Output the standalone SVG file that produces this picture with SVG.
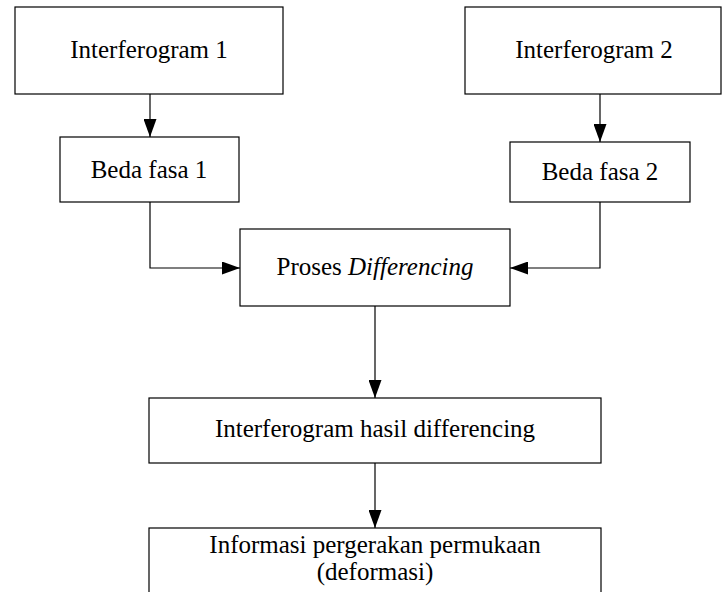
<svg xmlns="http://www.w3.org/2000/svg" width="723" height="592" viewBox="0 0 723 592">
<style>
.box{fill:#fff;stroke:#000;stroke-width:1.2}
.t{font-family:"Liberation Serif","Times New Roman",serif;font-size:25px;fill:#000;text-anchor:middle}
.c{fill:none;stroke:#000;stroke-width:1.2}
</style>
<defs>
<marker id="ah" markerWidth="18" markerHeight="13" refX="18" refY="6.5" orient="auto" markerUnits="userSpaceOnUse">
<path d="M0,0 L18,6.5 L0,13 Z" fill="#000"/>
</marker>
</defs>
<rect width="723" height="592" fill="#fff"/>
<g id="connectors">
<path class="c" d="M150,94 V137" marker-end="url(#ah)"/>
<path class="c" d="M600,94 V142" marker-end="url(#ah)"/>
<path class="c" d="M150,202 V268 H240" marker-end="url(#ah)"/>
<path class="c" d="M600,202 V268 H510" marker-end="url(#ah)"/>
<path class="c" d="M375,306 V398" marker-end="url(#ah)"/>
<path class="c" d="M375,463 V528" marker-end="url(#ah)"/>
</g>
<g id="interferogram1">
<rect class="box" x="15" y="7" width="268" height="87"/>
<text class="t" x="149" y="58">Interferogram 1</text>
</g>
<g id="interferogram2">
<rect class="box" x="465" y="7" width="256" height="87"/>
<text class="t" x="594" y="58">Interferogram 2</text>
</g>
<g id="bedafasa1">
<rect class="box" x="60" y="137" width="179" height="65"/>
<text class="t" x="149" y="178">Beda fasa 1</text>
</g>
<g id="bedafasa2">
<rect class="box" x="510" y="142" width="180" height="60"/>
<text class="t" x="600" y="180">Beda fasa 2</text>
</g>
<g id="proses">
<rect class="box" x="240" y="229" width="270" height="77"/>
<text class="t" x="375" y="275">Proses <tspan font-style="italic">Differencing</tspan></text>
</g>
<g id="hasil">
<rect class="box" x="149" y="398" width="452" height="65"/>
<text class="t" x="375" y="437">Interferogram hasil differencing</text>
</g>
<g id="informasi">
<rect class="box" x="149" y="528" width="452" height="80"/>
<text class="t" x="375" y="553">Informasi pergerakan permukaan</text>
<text class="t" x="375" y="580">(deformasi)</text>
</g>
</svg>
